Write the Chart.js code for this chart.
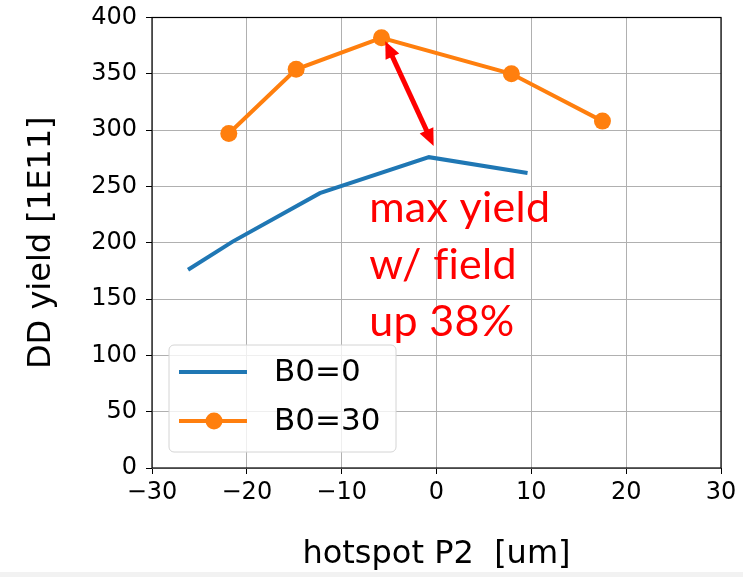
<!DOCTYPE html>
<html>
<head>
<meta charset="utf-8">
<title>DD yield vs hotspot P2</title>
<script src="https://cdn.jsdelivr.net/npm/chart.js@4.4.0/dist/chart.umd.min.js"></script>
<style>
  html, body { margin: 0; padding: 0; background: #f2f2f2; }
  #wrap { width: 743px; height: 572px; background: #fff; }
  canvas { display: block; }
</style>
</head>
<body>
<div id="wrap"><canvas id="chart" width="743" height="572"></canvas></div>
<script>
// axis ticks
const xTicks = [-30, -20, -10, 0, 10, 20, 30];
const yTicks = [0, 50, 100, 150, 200, 250, 300, 350, 400];

// B0=0 run (no field)
const b0Offsets = [-26.2, -21.5, -12.3, -0.8, 9.6];
const b0Yield = [176, 201, 244, 276, 262];

// B0=30 run (with field)
const b30Offsets = [-21.9, -14.8, -5.8, 7.9, 17.5];
const b30Yield = [297, 354, 382, 350, 308];

// red note + double arrow between the two maxima (data units)
const noteLines = ["max yield", "w/ field", "up 38%"];
const noteAnchor = [-7.1, 218];
const arrowFrom = [-5.4, 379];
const arrowTo = [-0.3, 286];

const BLUE = "#1f77b4";
const ORANGE = "#ff7f0e";
const RED = "#ff0000";
const FONT = "'DejaVu Sans', sans-serif";

const toPoints = (xs, ys) => xs.map((x, i) => ({ x, y: ys[i] }));
const fmtTick = (v) => (v < 0 ? "\u2212" + Math.abs(v) : String(v));

const framePlugin = {
  id: "frame",
  afterDatasetsDraw(chart) {
    const { ctx, chartArea: a } = chart;
    ctx.save();
    ctx.strokeStyle = "#000";
    ctx.lineWidth = 1.2;
    ctx.strokeRect(a.left, a.top, a.right - a.left, a.bottom - a.top);
    ctx.restore();
  }
};

const notePlugin = {
  id: "note",
  afterDatasetsDraw(chart) {
    const { ctx, scales: { x, y } } = chart;
    ctx.save();
    // double-headed arrow
    const x1 = x.getPixelForValue(arrowFrom[0]), y1 = y.getPixelForValue(arrowFrom[1]);
    const x2 = x.getPixelForValue(arrowTo[0]), y2 = y.getPixelForValue(arrowTo[1]);
    const ang = Math.atan2(y2 - y1, x2 - x1);
    const head = 17, half = 7.5;
    const ux = Math.cos(ang), uy = Math.sin(ang);
    ctx.strokeStyle = RED;
    ctx.fillStyle = RED;
    ctx.lineWidth = 5;
    ctx.beginPath();
    ctx.moveTo(x1 + ux * head * 0.8, y1 + uy * head * 0.8);
    ctx.lineTo(x2 - ux * head * 0.8, y2 - uy * head * 0.8);
    ctx.stroke();
    const drawHead = (tx, ty, dx, dy) => {
      const bx = tx - dx * head, by = ty - dy * head;
      ctx.beginPath();
      ctx.moveTo(tx, ty);
      ctx.lineTo(bx - dy * half, by + dx * half);
      ctx.lineTo(bx + dy * half, by - dx * half);
      ctx.closePath();
      ctx.fill();
    };
    drawHead(x2, y2, ux, uy);
    drawHead(x1, y1, -ux, -uy);

    // text block (small letter spacing keeps "f" and "i" apart)
    ctx.font = "43px Lato, 'Open Sans', sans-serif";
    ctx.letterSpacing = "0.3px";
    ctx.textBaseline = "alphabetic";
    ctx.textAlign = "left";
    const tx = x.getPixelForValue(noteAnchor[0]);
    const ty = y.getPixelForValue(noteAnchor[1]);
    noteLines.forEach((line, i) => ctx.fillText(line, tx, ty + i * 57));
    ctx.restore();
  }
};

const legendPlugin = {
  id: "boxLegend",
  afterDraw(chart) {
    const { ctx } = chart;
    const bx = 169, by = 345, bw = 227, bh = 107, r = 5;
    ctx.save();
    ctx.beginPath();
    ctx.roundRect(bx, by, bw, bh, r);
    ctx.fillStyle = "rgba(255,255,255,0.8)";
    ctx.fill();
    ctx.strokeStyle = "#d4d4d4";
    ctx.lineWidth = 1;
    ctx.stroke();
    ctx.font = "31px " + FONT;
    ctx.textBaseline = "middle";
    ctx.fillStyle = "#000";
    chart.data.datasets.forEach((ds, i) => {
      const cy = by + 27 + i * 49;
      ctx.strokeStyle = ds.borderColor;
      ctx.lineWidth = ds.borderWidth;
      ctx.beginPath();
      ctx.moveTo(bx + 10, cy);
      ctx.lineTo(bx + 78, cy);
      ctx.stroke();
      if (ds.pointRadius > 0) {
        ctx.fillStyle = ds.pointBackgroundColor;
        ctx.beginPath();
        ctx.arc(bx + 45, cy, ds.pointRadius, 0, Math.PI * 2);
        ctx.fill();
        ctx.fillStyle = "#000";
      }
      ctx.fillText(ds.label, bx + 105, cy + 1);
    });
    ctx.restore();
  }
};

new Chart(document.getElementById("chart"), {
  type: "line",
  data: {
    datasets: [
      {
        label: "B0=0",
        data: toPoints(b0Offsets, b0Yield),
        borderColor: BLUE,
        borderWidth: 4,
        pointRadius: 0,
        tension: 0
      },
      {
        label: "B0=30",
        data: toPoints(b30Offsets, b30Yield),
        borderColor: ORANGE,
        borderWidth: 4,
        pointRadius: 8.5,
        pointBackgroundColor: ORANGE,
        pointBorderWidth: 0,
        tension: 0
      }
    ]
  },
  options: {
    responsive: false,
    animation: false,
    devicePixelRatio: 1,
    layout: { padding: { top: 17.5, right: 22, left: 0, bottom: 0 } },
    plugins: { legend: { display: false }, tooltip: { enabled: false } },
    scales: {
      x: {
        type: "linear",
        min: -30,
        max: 30,
        afterBuildTicks: (s) => { s.ticks = xTicks.map((v) => ({ value: v })); },
        afterFit: (s) => {
          s.height = 104;
          s.paddingLeft = 0;
          s.paddingRight = 0;
        },
        grid: { color: "#b0b0b0", lineWidth: 1, tickColor: "#000", tickLength: 6 },
        border: { display: false },
        ticks: { callback: fmtTick, color: "#000", padding: 4, maxRotation: 0, font: { family: FONT, size: 24 } },
        title: {
          display: true,
          text: "hotspot P2  [um]",
          color: "#000",
          font: { family: FONT, size: 32, lineHeight: 1 },
          padding: { top: 0, bottom: 1 }
        }
      },
      y: {
        type: "linear",
        min: 0,
        max: 400,
        afterBuildTicks: (s) => { s.ticks = yTicks.map((v) => ({ value: v })); },
        afterFit: (s) => {
          s.width = 152;
          s.paddingTop = 0;
          s.paddingBottom = 0;
        },
        grid: { color: "#b0b0b0", lineWidth: 1, tickColor: "#000", tickLength: 6 },
        border: { display: false },
        ticks: { callback: fmtTick, color: "#000", padding: 9, font: { family: FONT, size: 24 } },
        title: {
          display: true,
          text: "DD yield [1E11]",
          color: "#000",
          font: { family: FONT, size: 32, lineHeight: 1 },
          padding: { top: 26, bottom: 0 }
        }
      }
    }
  },
  plugins: [framePlugin, notePlugin, legendPlugin]
});
</script>
</body>
</html>
